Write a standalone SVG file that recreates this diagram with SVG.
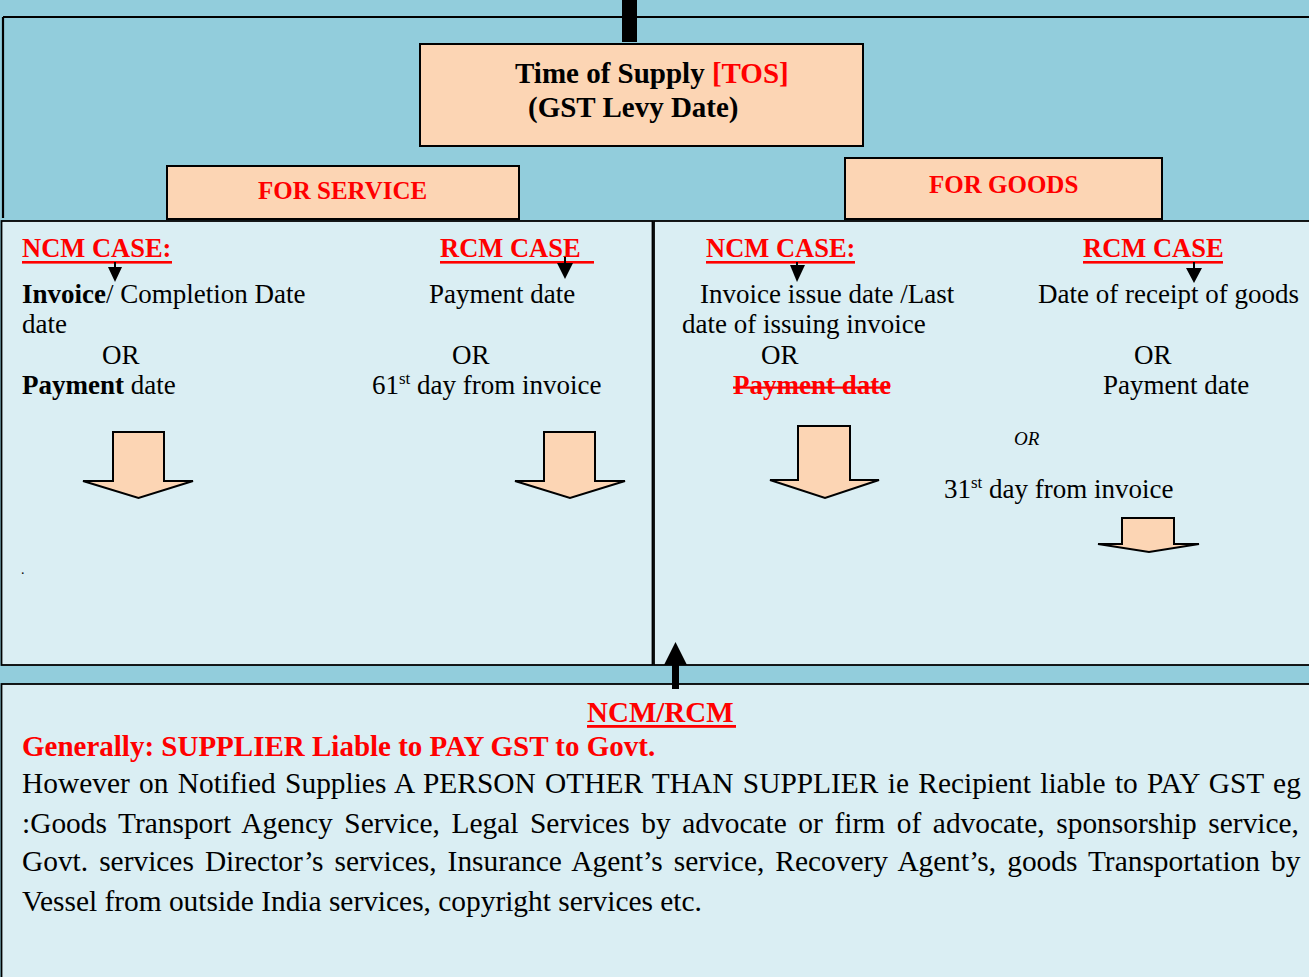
<svg xmlns="http://www.w3.org/2000/svg" width="1309" height="977" viewBox="0 0 1309 977">
<style>
  .serif { font-family: "Liberation Serif", "Times New Roman", serif; }
  .body { font-family: "Liberation Serif", "Times New Roman", serif; font-size: 27px; fill: #000; }
  .big { font-family: "Liberation Serif", "Times New Roman", serif; font-size: 29.4px; fill: #000; }
  .head { font-family: "Liberation Serif", "Times New Roman", serif; font-size: 26.5px; font-weight: bold; fill: #FF0000; }
  .red { fill: #FF0000; }
  .b { font-weight: bold; }
  .peach { fill: #FCD5B4; stroke: #000; stroke-width: 2; }
  .panel { fill: #DAEEF3; stroke: #000; stroke-width: 1.8; }
  .ul { fill: #FF0000; }
  .blk { fill: #000; }
  .bigarrow { fill: #FCD5B4; stroke: #000; stroke-width: 2; stroke-linejoin: miter; }
</style>
<rect x="0" y="0" width="1309" height="977" fill="#92CDDC"/>

<g id="frame">
  <path d="M3,17 H1309 M3,17 V218" fill="none" stroke="#000" stroke-width="2.2"/>
</g>

<g id="node-tos">
  <rect x="420" y="44" width="443" height="102" class="peach"/>
  <text x="515" y="83" class="serif b" font-size="29">Time of Supply <tspan class="red">[TOS]</tspan></text>
  <text x="528" y="117" class="serif b" font-size="29">(GST Levy Date)</text>
</g>

<g id="node-for-service">
  <rect x="167" y="166" width="352" height="53" class="peach"/>
  <text x="258" y="199" class="serif b red" font-size="25">FOR SERVICE</text>
</g>

<g id="node-for-goods">
  <rect x="845" y="158" width="317" height="61" class="peach"/>
  <text x="929" y="193" class="serif b red" font-size="25">FOR GOODS</text>
</g>

<g id="node-service-panel">
  <rect x="1.5" y="221" width="651" height="444" class="panel"/>
  <text x="22" y="257" class="head">NCM CASE:</text>
  <rect x="22" y="261" width="150" height="2.6" class="ul"/>
  <text x="440" y="257" class="head">RCM CASE</text>
  <rect x="440" y="261" width="154" height="2.6" class="ul"/>
  <text x="22" y="303" class="body"><tspan class="b">Invoice</tspan>/ Completion Date</text>
  <text x="22" y="333" class="body">date</text>
  <text x="102" y="364" class="body">OR</text>
  <text x="22" y="394" class="body"><tspan class="b">Payment</tspan> date</text>
  <text x="429" y="303" class="body">Payment date</text>
  <text x="452" y="364" class="body">OR</text>
  <text x="372" y="394" class="body">61<tspan font-size="17" dy="-10">st</tspan><tspan dy="10"> day from invoice</tspan></text>
  <text x="21" y="574" class="serif" font-size="14">.</text>
  <polygon class="bigarrow" points="113,432 164,432 164,481 193,481 138.5,498 83,481 113,481"/>
  <polygon class="bigarrow" points="544,432 595,432 595,481 625,481 570,498 515,481 544,481"/>
</g>

<g id="node-goods-panel">
  <rect x="654" y="221" width="658" height="444" class="panel"/>
  <text x="706" y="257" class="head">NCM CASE:</text>
  <rect x="706" y="261" width="149" height="2.6" class="ul"/>
  <text x="1083" y="257" class="head">RCM CASE</text>
  <rect x="1083" y="261" width="140" height="2.6" class="ul"/>
  <text x="700" y="303" class="body">Invoice issue date /Last</text>
  <text x="682" y="333" class="body">date of issuing invoice</text>
  <text x="761" y="364" class="body">OR</text>
  <text x="733" y="394" class="body b red">Payment date</text>
  <rect x="733" y="386.5" width="157" height="2.2" class="ul"/>
  <text x="1038" y="303" class="body">Date of receipt of goods</text>
  <text x="1134" y="364" class="body">OR</text>
  <text x="1103" y="394" class="body">Payment date</text>
  <text x="1014" y="445" class="serif" font-size="19" font-style="italic">OR</text>
  <text x="944" y="498" class="body">31<tspan font-size="17" dy="-10">st</tspan><tspan dy="10"> day from invoice</tspan></text>
  <polygon class="bigarrow" points="798,426 850,426 850,480 879,480 825,498 770,480 798,480"/>
  <polygon class="bigarrow" points="1122,518 1174,518 1174,544 1199,544 1149,552 1098,544 1122,544"/>
</g>

<g id="node-ncm-rcm">
  <rect x="1.5" y="684" width="1310" height="300" class="panel"/>
  <text x="587" y="722" class="serif b red" font-size="29">NCM/RCM</text>
  <rect x="587" y="725" width="149" height="2.8" class="ul"/>
  <text x="22" y="756" class="serif b red" font-size="29">Generally: SUPPLIER Liable to PAY GST to Govt.</text>
  <text x="22" y="793" class="big" word-spacing="2.0">However on Notified Supplies A PERSON OTHER THAN SUPPLIER ie Recipient liable to PAY GST eg</text>
  <text x="22" y="833" class="big" word-spacing="4.3">:Goods Transport Agency Service, Legal Services by advocate or firm of advocate, sponsorship service,</text>
  <text x="22" y="871" class="big" word-spacing="3.7">Govt. services Director’s services, Insurance Agent’s service, Recovery Agent’s, goods Transportation by</text>
  <text x="22" y="911" class="big">Vessel from outside India services, copyright services etc.</text>
</g>

<g id="connectors">
  <rect x="622" y="0" width="15" height="42" class="blk"/>
  <line x1="115" y1="262" x2="115" y2="268" stroke="#000" stroke-width="2"/>
  <polygon points="108,267 122,267 115,282" class="blk"/>
  <line x1="565" y1="257" x2="565" y2="264" stroke="#000" stroke-width="2"/>
  <polygon points="557,263 573,263 565,279" class="blk"/>
  <line x1="797" y1="262" x2="797" y2="266" stroke="#000" stroke-width="2"/>
  <polygon points="790,265 805,265 797,282" class="blk"/>
  <line x1="1194" y1="262" x2="1194" y2="269" stroke="#000" stroke-width="2"/>
  <polygon points="1186,268 1202,268 1194,283" class="blk"/>
  <rect x="672" y="662" width="7" height="27" class="blk"/>
  <polygon points="664,665 687,665 675.5,642" class="blk"/>
</g>
</svg>
